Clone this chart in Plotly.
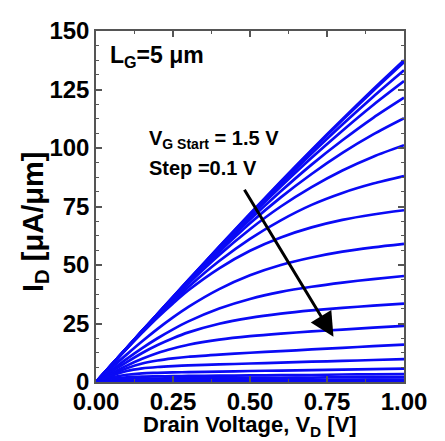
import plotly.graph_objects as go

vd = [0, 0.05, 0.1, 0.15, 0.2, 0.25, 0.3, 0.4, 0.5, 0.6, 0.7, 0.8, 0.9, 1.0]

id_curves = [
    [0, 7.3, 14.6, 21.9, 29.1, 36.4, 43.6, 57.8, 71.9, 85.7, 99.2, 112.3, 125.1, 137.5],
    [0, 7.3, 14.6, 21.9, 29.1, 36.3, 43.5, 57.8, 71.7, 85.5, 98.9, 111.9, 124.5, 136.7],
    [0, 7.3, 14.6, 21.9, 29.1, 36.3, 43.4, 57.5, 71.2, 84.6, 97.6, 110.0, 121.9, 133.2],
    [0, 7.3, 14.6, 21.8, 29.0, 36.2, 43.3, 57.1, 70.6, 83.5, 95.8, 107.4, 118.4, 128.6],
    [0, 7.3, 14.6, 21.8, 29.0, 36.0, 43.0, 56.5, 69.4, 81.5, 92.9, 103.3, 112.9, 121.5],
    [0, 7.3, 14.6, 21.8, 28.8, 35.8, 42.6, 55.6, 67.8, 78.9, 88.9, 97.9, 105.8, 112.7],
    [0, 7.3, 14.5, 21.7, 28.7, 35.4, 42.0, 54.3, 65.3, 75.0, 83.3, 90.4, 96.3, 101.2],
    [0, 7.2, 14.3, 21.2, 28.0, 34.4, 40.6, 51.7, 61.2, 69.1, 75.7, 80.8, 84.8, 88.0],
    [0, 7.2, 14.3, 21.1, 27.6, 33.6, 39.2, 48.6, 56.1, 61.8, 66.1, 69.3, 71.6, 73.4],
    [0, 6.0, 11.8, 17.4, 22.7, 27.6, 32.1, 39.7, 45.6, 50.0, 53.2, 55.7, 57.5, 59.0],
    [0, 5.0, 9.9, 14.5, 18.7, 22.5, 25.9, 31.4, 35.5, 38.5, 40.7, 42.5, 44.0, 45.3],
    [0, 4.4, 8.5, 12.4, 15.8, 18.7, 21.2, 24.9, 27.4, 29.2, 30.6, 31.7, 32.6, 33.5],
    [0, 3.6, 7.0, 9.9, 12.4, 14.3, 15.9, 18.1, 19.6, 20.7, 21.6, 22.4, 23.2, 24.0],
    [0, 3.2, 5.9, 7.9, 9.2, 10.1, 10.8, 11.7, 12.5, 13.2, 13.9, 14.6, 15.3, 16.0],
    [0, 2.7, 4.7, 5.8, 6.4, 6.8, 7.1, 7.5, 7.9, 8.3, 8.7, 9.0, 9.4, 9.8],
    [0, 1.9, 3.1, 3.7, 3.9, 4.1, 4.2, 4.4, 4.7, 4.9, 5.1, 5.3, 5.5, 5.7],
    [0, 1.3, 2.0, 2.3, 2.4, 2.5, 2.6, 2.7, 2.8, 2.9, 3.0, 3.2, 3.3, 3.4],
    [0, 0.9, 1.3, 1.5, 1.5, 1.6, 1.6, 1.7, 1.8, 1.8, 1.9, 2.0, 2.0, 2.1],
    [0, 0.5, 0.7, 0.7, 0.8, 0.8, 0.8, 0.8, 0.9, 0.9, 0.9, 0.9, 1.0, 1.0],
    [0, 0.2, 0.3, 0.3, 0.3, 0.3, 0.3, 0.35, 0.35, 0.35, 0.4, 0.4, 0.4, 0.4],
    [0, 0.1, 0.1, 0.1, 0.1, 0.1, 0.1, 0.12, 0.12, 0.12, 0.13, 0.14, 0.14, 0.15],
]

x_ticks = [0, 0.25, 0.5, 0.75, 1.0]
x_tick_labels = ["0.00", "0.25", "0.50", "0.75", "1.00"]
y_ticks = [0, 25, 50, 75, 100, 125, 150]

# arrow (data coords): tail -> head
arrow_tail = (0.479, 82.8)
arrow_head = (0.771, 19.3)

FONT = "Liberation Sans, Arial, Helvetica, sans-serif"

fig = go.Figure()
for ys in id_curves:
    fig.add_trace(go.Scatter(
        x=vd, y=ys, mode="lines",
        line=dict(color="#0a0af5", width=2.7, shape="spline", smoothing=0.8),
        showlegend=False, hoverinfo="skip",
    ))

axis_common = dict(
    showline=True, linecolor="#555555", linewidth=1.5, mirror="allticks",
    ticks="inside", ticklen=6, tickwidth=1.5, tickcolor="#555555",
    showgrid=False, zeroline=False, ticklabeloverflow="allow",
    tickfont=dict(family=FONT, size=24, color="black", weight="bold"),
)

fig.update_xaxes(
    range=[0, 1], tickvals=x_ticks, ticktext=x_tick_labels,
    ticklabelstandoff=-3,
    minor=dict(dtick=0.125, ticklen=3, tickwidth=1.2, tickcolor="#555555", ticks="inside"),
    **axis_common,
)
fig.update_yaxes(
    range=[0, 150], tickvals=y_ticks,
    minor=dict(dtick=6.25, ticklen=3, tickwidth=1.2, tickcolor="#555555", ticks="inside"),
    **axis_common,
)

annotations = [
    dict(x=0.04, y=139, xref="x", yref="y", xanchor="left", yanchor="middle",
         text="L<sub>G</sub>=5 μm", showarrow=False,
         font=dict(family=FONT, size=23, color="black", weight="bold")),
    dict(x=0.166, y=103.5, xref="x", yref="y", xanchor="left", yanchor="middle",
         text="V<sub>G Start</sub> = 1.5 V", showarrow=False,
         font=dict(family=FONT, size=20, color="black", weight="bold")),
    dict(x=0.166, y=91.6, xref="x", yref="y", xanchor="left", yanchor="middle",
         text="Step =0.1 V", showarrow=False,
         font=dict(family=FONT, size=20, color="black", weight="bold")),
    dict(x=arrow_head[0], y=arrow_head[1], ax=arrow_tail[0], ay=arrow_tail[1],
         xref="x", yref="y", axref="x", ayref="y", text="", showarrow=True,
         arrowhead=2, arrowsize=1.6, arrowwidth=3, arrowcolor="black"),
    dict(x=0.5, y=-0.124, xref="paper", yref="paper", xanchor="center", yanchor="middle",
         text="Drain Voltage, V<sub>D</sub> [V]", showarrow=False,
         font=dict(family=FONT, size=22, color="black", weight="bold")),
    dict(x=-0.2, y=0.457, xref="paper", yref="paper", xanchor="center", yanchor="middle",
         text="I<sub>D</sub> [μA/μm]", showarrow=False, textangle=-90,
         font=dict(family=FONT, size=29, color="black", weight="bold")),
]

# the page body adds an 8 px offset, so the figure is 8 px smaller and margins shifted
fig.update_layout(
    width=437, height=433,
    margin=dict(l=88, r=41, t=9, b=59),
    plot_bgcolor="white", paper_bgcolor="white",
    annotations=annotations,
)

fig.write_html("out.html", config={"displayModeBar": False})
